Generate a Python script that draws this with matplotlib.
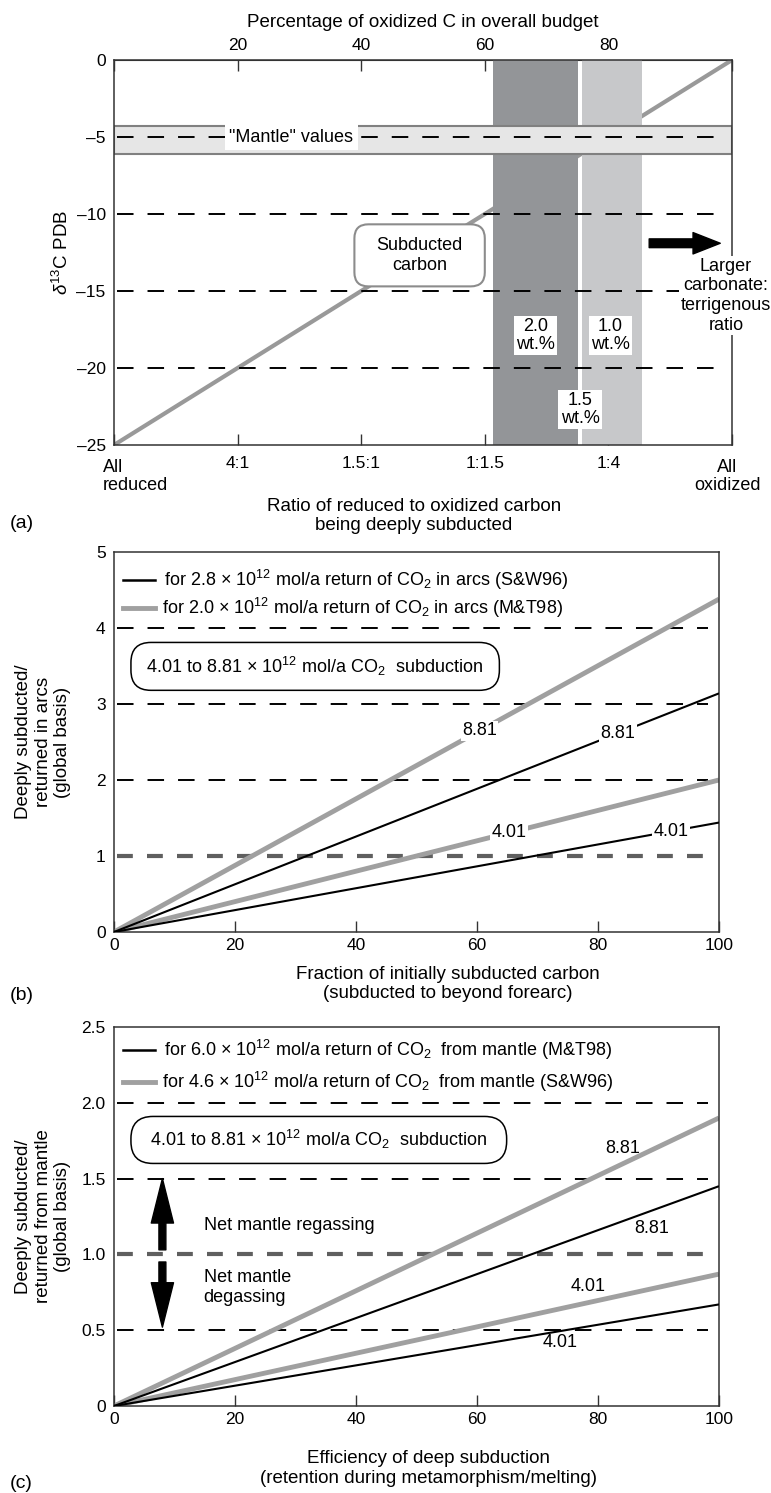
import numpy as np
import matplotlib
matplotlib.use("Agg")
import matplotlib.pyplot as plt
from matplotlib.patches import FancyBboxPatch

plt.rcParams['font.family'] = ['Liberation Sans', 'DejaVu Sans']
plt.rcParams['font.size'] = 13
plt.rcParams['mathtext.fontset'] = 'custom'
plt.rcParams['mathtext.rm'] = 'Liberation Sans'
plt.rcParams['mathtext.it'] = 'Liberation Sans:italic'
plt.rcParams['mathtext.bf'] = 'Liberation Sans:bold'

# ---- data: panel (a)
pct_ticks = [0, 20, 40, 60, 80, 100]
pct_ticklabels = ['', '20', '40', '60', '80', '']
ratio_ticklabels = ['', '4:1', '1.5:1', '1:1.5', '1:4', '']
d13c_ticks = [0, -5, -10, -15, -20, -25]
subducted_x = [0, 100]
subducted_d13c = [-25, 0]
mantle_range = [-6.1, -4.3]
mantle_value = -5
band_names = ['2.0', '1.0']
band_left = [61.4, 75.7]
band_right = [75.1, 85.4]
d13c_guides = [-10, -15, -20]

# ---- data: panel (b)
frac_x = [0, 100]
arc_sw96 = [[0, 3.14], [0, 1.44]]   # 8.81 and 4.01 x10^12 mol/a subduction
arc_mt98 = [[0, 4.38], [0, 2.00]]
subduction_labels = ['8.81', '4.01']
arc_guides = [2, 3, 4]
arc_unity = 1

# ---- data: panel (c)
eff_x = [0, 100]
mantle_mt98 = [[0, 1.45], [0, 0.67]]
mantle_sw96 = [[0, 1.90], [0, 0.87]]
mantle_guides = [0.5, 1.5, 2.0]
mantle_unity = 1.0

GRAY_LINE = '#a0a0a0'
DARK_BAND = '#939598'
LIGHT_BAND = '#c7c8ca'
SPINE = '#333333'
TICK_FS = 12.5
LABEL_FS = 13.5
W, H = 771, 1493

fig = plt.figure(figsize=(W / 100, H / 100), dpi=100)


def add_axes(left, top, right, bottom):
    return fig.add_axes([left / W, 1 - bottom / H, (right - left) / W, (bottom - top) / H])


def rounded_box(ax, x0, x1, y0, y1, radius_px, **kw):
    pos = ax.get_position()
    ux = np.diff(ax.get_xlim())[0] / (pos.width * W)
    uy = np.diff(ax.get_ylim())[0] / (pos.height * H)
    p = FancyBboxPatch((x0, y0), x1 - x0, y1 - y0,
                       boxstyle="round,pad=0,rounding_size=%g" % (radius_px * ux),
                       mutation_aspect=uy / ux, **kw)
    ax.add_patch(p)


def dashed(ax, y, thick=False):
    if thick:
        ax.plot([0.5, 98.2], [y, y], color='#5f5f5f', lw=3, ls=(0, (3.8, 3.4)), zorder=2.3)
    else:
        ax.plot([0.5, 98.2], [y, y], color='k', lw=1.4, ls=(0, (8.5, 7.2)), zorder=2.3)


def style(ax):
    for s in ax.spines.values():
        s.set_color(SPINE)
        s.set_linewidth(1.1)
    ax.tick_params(axis='y', length=0, pad=6, labelsize=TICK_FS)
    ax.tick_params(axis='x', direction='in', length=8, width=1, color=SPINE, labelsize=TICK_FS)


# ================= panel (a)
ax = add_axes(114, 60, 732, 445)
ax.set_xlim(0, 100)
ax.set_ylim(-25, 0)
style(ax)
ax.set_xticks(pct_ticks)
ax.set_xticklabels(ratio_ticklabels)
ax.tick_params(axis='x', pad=8)
ax.set_yticks(d13c_ticks)
ax.set_yticklabels(['0' if t == 0 else '\u2013%d' % -t for t in d13c_ticks])

top = ax.secondary_xaxis('top')
top.set_xticks(pct_ticks)
top.set_xticklabels(pct_ticklabels)
top.tick_params(direction='in', length=8, width=1, color=SPINE, pad=5, labelsize=TICK_FS)
top.spines['top'].set_color(SPINE)
top.set_xlabel('Percentage of oxidized C in overall budget', fontsize=LABEL_FS, labelpad=8)

ax.plot(subducted_x, subducted_d13c, color='#999999', lw=3, zorder=1.5, solid_capstyle='butt')
band_colors = [DARK_BAND, LIGHT_BAND]
for l, r, c in zip(band_left, band_right, band_colors):
    ax.axvspan(l, r, color=c, lw=0, zorder=2)
ax.axhspan(mantle_range[0], mantle_range[1], facecolor='#e6e6e6', edgecolor='#808080',
           lw=1.5, zorder=2.2)
dashed(ax, mantle_value)
for y in d13c_guides:
    dashed(ax, y)

ax.text(28.7, mantle_value, '"Mantle" values', ha='center', va='center', zorder=3,
        bbox=dict(fc='white', ec='none', pad=3))
rounded_box(ax, 38.9, 60.0, -14.7, -10.67, 14, fc='white', ec='#8c8c8c', lw=1.5, zorder=2.4)
ax.text(49.4, -12.7, 'Subducted\ncarbon', ha='center', va='center', zorder=3)

wt_bbox = dict(fc='white', ec='none', pad=1.5)
ax.text(68.2, -17.9, band_names[0] + '\nwt.%', ha='center', va='center', linespacing=1.1,
        bbox=wt_bbox, zorder=3)
ax.text(80.3, -17.9, band_names[1] + '\nwt.%', ha='center', va='center', linespacing=1.1,
        bbox=wt_bbox, zorder=3)
ax.text(75.4, -22.7, '1.5\nwt.%', ha='center', va='center', linespacing=1.1,
        bbox=wt_bbox, zorder=3)

ax.annotate('', xy=(98.1, -11.9), xytext=(86.6, -11.9), zorder=3,
            arrowprops=dict(arrowstyle='simple,head_length=1.4,head_width=1.1,tail_width=0.45',
                            fc='k', ec='k', mutation_scale=14, shrinkA=0, shrinkB=0))
ax.text(99.0, -15.3, 'Larger\ncarbonate:\nterrigenous\nratio', ha='center', va='center',
        zorder=3, bbox=dict(fc='white', ec='none', pad=1))

ax.text(-1.8, -0.037, 'All\nreduced', transform=ax.get_xaxis_transform(), ha='left', va='top',
        linespacing=1.05)
ax.text(99.2, -0.037, 'All\noxidized', transform=ax.get_xaxis_transform(), ha='center', va='top',
        linespacing=1.05)
ax.text(0.485, -0.184, 'Ratio of reduced to oxidized carbon\nbeing deeply subducted',
        transform=ax.transAxes, ha='center', va='center', fontsize=LABEL_FS)
ax.set_ylabel(r'$\delta^{13}$C PDB', fontsize=LABEL_FS, va='center')
ax.yaxis.set_label_coords(-0.084, 0.5)
fig.text(10 / W, 1 - 523 / H, '(a)', ha='left', va='center', fontsize=14)

# ================= panel (b)
ax = add_axes(114, 552, 719, 932)
ax.set_xlim(0, 100)
ax.set_ylim(0, 5)
style(ax)
ax.set_xticks([0, 20, 40, 60, 80, 100])
ax.set_yticks([0, 1, 2, 3, 4, 5])
ax.tick_params(axis='x', pad=4)

for y in arc_guides:
    dashed(ax, y)
dashed(ax, arc_unity, thick=True)

for ys in arc_mt98:
    ax.plot(frac_x, ys, color=GRAY_LINE, lw=3.5, zorder=2.5, solid_capstyle='butt')
for ys in arc_sw96:
    ax.plot(frac_x, ys, color='k', lw=1.5, zorder=2.6, solid_capstyle='butt')

lab_bbox = dict(fc='white', ec='none', pad=1)
for ys, lab, xp in zip(arc_mt98, subduction_labels, [60.4, 65.3]):
    ax.text(xp, np.interp(xp, frac_x, ys), lab, ha='center', va='center', bbox=lab_bbox, zorder=3)
for ys, lab, xp in zip(arc_sw96, subduction_labels, [83.3, 92.1]):
    ax.text(xp, np.interp(xp, frac_x, ys), lab, ha='center', va='center', bbox=lab_bbox, zorder=3)

ax.plot([1.5, 6.8], [4.63, 4.63], color='k', lw=1.8)
ax.plot([1.5, 6.8], [4.26, 4.26], color=GRAY_LINE, lw=3.5)
ax.text(8.2, 4.63, r'for 2.8 $\times$ $10^{12}$ mol/a return of CO$_2$ in arcs (S&W96)', va='center')
ax.text(7.9, 4.26, r'for 2.0 $\times$ $10^{12}$ mol/a return of CO$_2$ in arcs (M&T98)', va='center')
rounded_box(ax, 2.8, 63.7, 3.18, 3.81, 20, fc='white', ec='k', lw=1.1, zorder=3)
ax.text(33.2, 3.5, r'4.01 to 8.81 $\times$ $10^{12}$ mol/a CO$_2$  subduction', ha='center',
        va='center', zorder=4)

ax.text(0.552, -0.137, 'Fraction of initially subducted carbon\n(subducted to beyond forearc)',
        transform=ax.transAxes, ha='center', va='center', fontsize=LABEL_FS)
ax.set_ylabel('Deeply subducted/\nreturned in arcs\n(global basis)', fontsize=LABEL_FS, va='center')
ax.yaxis.set_label_coords(-0.117, 0.5)
fig.text(10 / W, 1 - 995 / H, '(b)', ha='left', va='center', fontsize=14)

# ================= panel (c)
ax = add_axes(114, 1027, 719, 1406)
ax.set_xlim(0, 100)
ax.set_ylim(0, 2.5)
style(ax)
ax.set_xticks([0, 20, 40, 60, 80, 100])
ax.set_yticks([0, 0.5, 1.0, 1.5, 2.0, 2.5])
ax.set_yticklabels(['0', '0.5', '1.0', '1.5', '2.0', '2.5'])
ax.tick_params(axis='x', pad=4)

for y in mantle_guides:
    dashed(ax, y)
dashed(ax, mantle_unity, thick=True)

for ys in mantle_sw96:
    ax.plot(eff_x, ys, color=GRAY_LINE, lw=3.5, zorder=2.5, solid_capstyle='butt')
for ys in mantle_mt98:
    ax.plot(eff_x, ys, color='k', lw=1.5, zorder=2.6, solid_capstyle='butt')

ax.text(84.0, 1.70, subduction_labels[0], ha='center', va='center')
ax.text(78.3, 0.785, subduction_labels[1], ha='center', va='center')
ax.text(88.9, 1.17, subduction_labels[0], ha='center', va='center')
ax.text(73.8, 0.42, subduction_labels[1], ha='center', va='center')

ax.plot([1.5, 6.8], [2.35, 2.35], color='k', lw=1.8)
ax.plot([1.5, 6.8], [2.14, 2.14], color=GRAY_LINE, lw=3.5)
ax.text(8.2, 2.35, r'for 6.0 $\times$ $10^{12}$ mol/a return of CO$_2$  from mantle (M&T98)', va='center')
ax.text(7.9, 2.14, r'for 4.6 $\times$ $10^{12}$ mol/a return of CO$_2$  from mantle (S&W96)', va='center')
rounded_box(ax, 2.8, 64.9, 1.60, 1.91, 22, fc='white', ec='k', lw=1.1, zorder=3)
ax.text(33.8, 1.755, r'4.01 to 8.81 $\times$ $10^{12}$ mol/a CO$_2$  subduction', ha='center',
        va='center', zorder=4)

arrow_style = 'simple,head_length=3.2,head_width=1.6,tail_width=0.5'
ax.annotate('', xy=(8.0, 1.50), xytext=(8.0, 1.03), zorder=3,
            arrowprops=dict(arrowstyle=arrow_style, fc='k', ec='k', mutation_scale=10,
                            shrinkA=0, shrinkB=0))
ax.annotate('', xy=(8.0, 0.52), xytext=(8.0, 0.95), zorder=3,
            arrowprops=dict(arrowstyle=arrow_style, fc='k', ec='k', mutation_scale=10,
                            shrinkA=0, shrinkB=0))
ax.text(14.8, 1.19, 'Net mantle regassing', ha='left', va='center')
ax.text(14.8, 0.78, 'Net mantle\ndegassing', ha='left', va='center')

ax.text(0.52, -0.165, 'Efficiency of deep subduction\n(retention during metamorphism/melting)',
        transform=ax.transAxes, ha='center', va='center', fontsize=LABEL_FS)
ax.set_ylabel('Deeply subducted/\nreturned from mantle\n(global basis)', fontsize=LABEL_FS, va='center')
ax.yaxis.set_label_coords(-0.117, 0.5)
fig.text(10 / W, 1 - 1483 / H, '(c)', ha='left', va='center', fontsize=14)

fig.savefig('out.png', dpi=100)
